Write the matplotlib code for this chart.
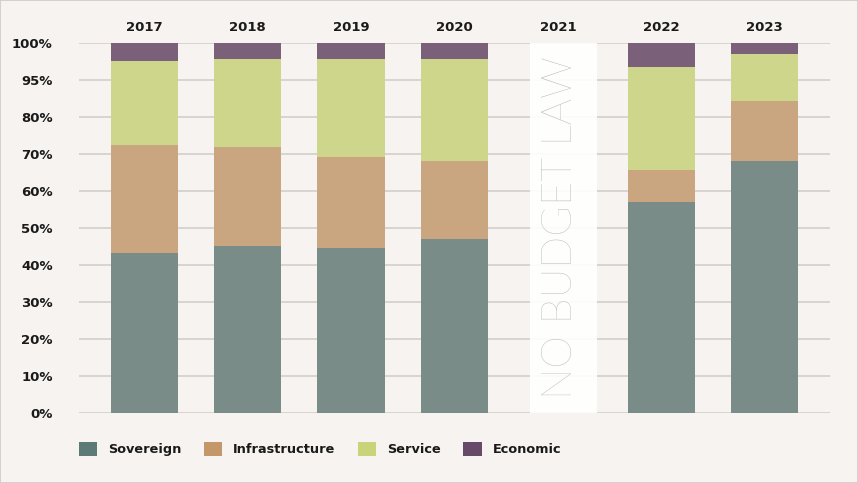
import matplotlib
matplotlib.use("Agg")
import matplotlib.pyplot as plt
from matplotlib.patches import Patch
import numpy as np

years = ["2017", "2018", "2019", "2020", "2021", "2022", "2023"]
sovereign = [43.2, 45.1, 44.6, 47.0, np.nan, 57.0, 68.0]
infrastructure = [29.1, 26.6, 24.6, 21.1, np.nan, 8.6, 16.3]
service = [22.8, 24.0, 26.5, 27.6, np.nan, 27.8, 12.6]
economic = [4.9, 4.3, 4.3, 4.3, np.nan, 6.6, 3.1]
ytick_values = [0, 10, 20, 30, 40, 50, 60, 70, 80, 90, 100]
ytick_labels = ["0%", "10%", "20%", "30%", "40%", "50%", "60%", "70%", "80%", "95%", "100%"]
no_data_year = "2021"
no_data_text = "NO BUDGET LAW"

series = [
    ("Sovereign", sovereign, "#7a8c88", "#5d7b76"),
    ("Infrastructure", infrastructure, "#c9a680", "#c4976a"),
    ("Service", service, "#cdd68b", "#c8d37a"),
    ("Economic", economic, "#7b6079", "#674a69"),
]

bg = "#f7f3f0"
fig = plt.figure(figsize=(8.58, 4.83), dpi=100, facecolor=bg)
fig.patches.append(plt.Rectangle((0, 0), 1, 1, transform=fig.transFigure,
                                 fill=False, edgecolor="#cfcac6", linewidth=1.2))
ax = fig.add_axes([0.0921, 0.1455, 0.8753, 0.7661])
ax.set_facecolor(bg)

x = np.arange(len(years))
width = 0.65
bottom = np.zeros(len(years))
for name, vals, col, _ in series:
    v = np.array(vals, dtype=float)
    ax.bar(x, np.nan_to_num(v), width, bottom=bottom, color=col, zorder=3, linewidth=0)
    bottom += np.nan_to_num(v)

# no-data band
idx = years.index(no_data_year)
ax.bar(idx + 0.05, ytick_values[-1], width, color="white", alpha=0.92, zorder=2.5, linewidth=0)
ax.text(idx + 0.03, ytick_values[-1] / 2, no_data_text, rotation=90, ha="center", va="center",
        fontsize=30, color="#b3b3b3", family="Lato", fontweight="light", zorder=4)

ax.set_xlim(-0.63, 6.63)
ax.set_ylim(0, 100)
ax.set_yticks(ytick_values)
ax.set_yticklabels(ytick_labels, fontsize=9.5, fontweight="bold", color="#1a1a1a")
ax.yaxis.grid(True, color="#d6d1cd", linewidth=1.3, zorder=0)
ax.set_axisbelow(True)
ax.tick_params(axis="y", length=0, pad=19)
ax.xaxis.tick_top()
ax.set_xticks(x)
ax.set_xticklabels(years, fontsize=9.5, fontweight="bold", color="#1a1a1a")
ax.tick_params(axis="x", length=0, pad=6)
for s in ax.spines.values():
    s.set_visible(False)

handles = [Patch(facecolor=lc, edgecolor="none", label=name) for name, _, _, lc in series]
leg = fig.legend(handles=handles, loc="center left", bbox_to_anchor=(0.092, 0.0704),
                 ncol=4, frameon=False, borderpad=0, borderaxespad=0,
                 handlelength=1.4, handleheight=1.4, handletextpad=0.85, columnspacing=1.75,
                 prop={"size": 9.3, "weight": "bold"})
for t in leg.get_texts():
    t.set_color("#1a1a1a")

fig.savefig("out.png", dpi=100, facecolor=bg)
